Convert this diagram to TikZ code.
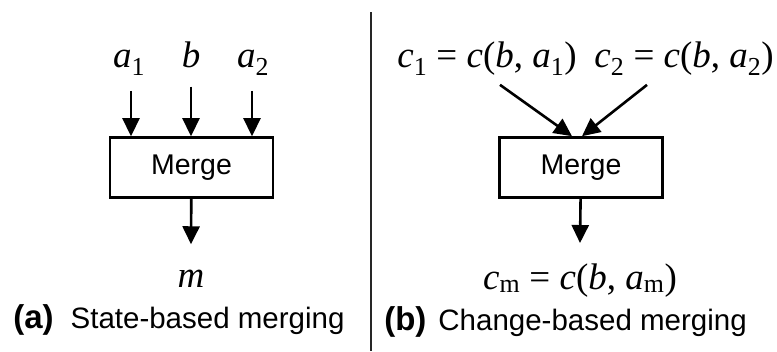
\documentclass[tikz,border=0pt]{standalone}
\usepackage{fontspec}
\setmainfont{Liberation Serif}
\setsansfont{Liberation Sans}
\usetikzlibrary{arrows.meta}
\newcommand{\vr}[1]{\textit{#1}}
\newcommand{\sbs}[1]{\textsubscript{#1}}

\begin{document}
\begin{tikzpicture}[x=1pt, y=-1pt, line width=2.6pt,
  arr/.style={-{Triangle[width=17pt,length=18pt]}},
  mergebox/.style={draw, minimum width=163pt, minimum height=60pt, inner sep=0pt, font=\sffamily\fontsize{28.5}{32}\selectfont},
  lbl/.style={anchor=base, inner sep=0pt, font=\fontsize{37}{42}\selectfont},
  captxt/.style={anchor=base west, inner sep=0pt, font=\sffamily\fontsize{29.5}{34}\selectfont}]
\useasboundingbox (0,0) rectangle (777,351);
% (a) state-based
\node[mergebox] (mergeA) at (191.5,167.5) {Merge};
\node[lbl] (a1) at (129,67) {\vr{a}\sbs{1}};
\node[lbl] (b) at (191,67) {\vr{b}};
\node[lbl] (a2) at (253,67) {\vr{a}\sbs{2}};
\node[lbl] (m) at (191,287) {\vr{m}};
\draw[arr] ([xshift=2pt,yshift=-14pt]a1.south) -- ([xshift=2pt]a1.south |- mergeA.north);
\draw[arr] ([yshift=-18pt]b.south) -- (b.south |- mergeA.north);
\draw[arr] ([xshift=-1pt,yshift=-14pt]a2.south) -- ([xshift=-1pt]a2.south |- mergeA.north);
\draw[arr] (mergeA) -- ([yshift=24pt]m.north);
\node[captxt] (capA) at (12,328) {{\fontsize{33}{36}\selectfont\bfseries(a)}\hspace{17pt}State-based merging};
% divider
\draw[line width=2.2pt, black!85] (371,12) -- (371,351);
% (b) change-based
\node[mergebox] (mergeB) at (581,167.5) {Merge};
\node[lbl] (c1) at (487,67) {\vr{c}\sbs{1} = \vr{c}(\vr{b}, \vr{a}\sbs{1})};
\node[lbl] (c2) at (684,67) {\vr{c}\sbs{2} = \vr{c}(\vr{b}, \vr{a}\sbs{2})};
\node[lbl] (cm) at (580,289) {\vr{c}\sbs{m} = \vr{c}(\vr{b}, \vr{a}\sbs{m})};
\draw[arr] ([xshift=13pt,yshift=-8pt]c1.south) -- ([xshift=-9pt]mergeB.north);
\draw[arr] ([xshift=-37pt,yshift=-8pt]c2.south) -- ([xshift=1pt]mergeB.north);
\draw[arr] (mergeB) -- ([yshift=19pt]cm.north);
\node[captxt] (capB) at (383,330) {{\fontsize{33}{36}\selectfont\bfseries(b)}\hspace{12pt}Change-based merging};
\end{tikzpicture}
\end{document}
